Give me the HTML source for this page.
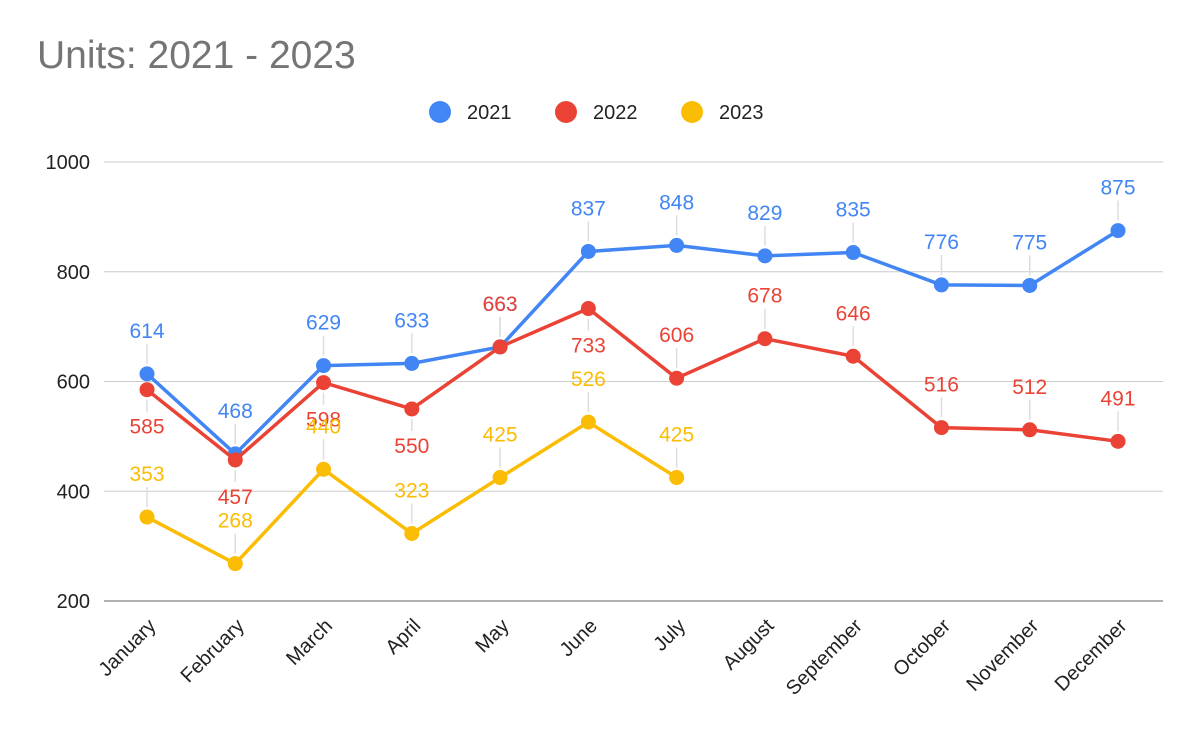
<!DOCTYPE html>
<html><head><meta charset="utf-8"><style>
body{margin:0;background:#fff;}
svg text{font-family:"Liberation Sans",Arial,sans-serif;}
</style></head><body>
<svg id="chart" width="1200" height="742" xmlns="http://www.w3.org/2000/svg">
<text x="37" y="68" font-size="39" fill="#757575">Units: 2021 - 2023</text>
<g id="grid"></g><g id="axes"></g><g id="series"></g><g id="legend"></g>
</svg>
<script>
const categories=["January","February","March","April","May","June","July","August","September","October","November","December"];
const seriesNames=["2021","2022","2023"];
const values2021=[614,468,629,633,663,837,848,829,835,776,775,875];
const values2022=[585,457,598,550,663,733,606,678,646,516,512,491];
const values2023=[353,268,440,323,425,526,425];
const labelBelow2022=[1,1,1,1,0,1,0,0,0,0,0,0];
const yTicks=[200,400,600,800,1000];
const colors=["#4285f4","#ea4335","#fbbc04"];
const NS="http://www.w3.org/2000/svg";
const x0=147,dx=(1118-147)/11;
function xs(i){return x0+i*dx;}
function ys(v){return 601-(v-200)*(439/800);}
function el(t,a,p){const e=document.createElementNS(NS,t);for(const k in a)e.setAttribute(k,a[k]);p.appendChild(e);return e;}
const grid=document.getElementById('grid'),axes=document.getElementById('axes'),ser=document.getElementById('series'),leg=document.getElementById('legend');
yTicks.forEach(t=>{
  const l=el('line',{x1:104,x2:1163,y1:ys(t),y2:ys(t),stroke:t===200?'#999':'#ccc','stroke-width':t===200?1.5:1},grid);
  
  
  const tx=el('text',{x:90,y:ys(t)+7,'text-anchor':'end','font-size':20,fill:'#222'},axes);tx.textContent=t;
  
  
});
categories.forEach((c,i)=>{
  const tx=el('text',{x:xs(i)+10,y:627,'text-anchor':'end','font-size':20,fill:'#222',transform:`rotate(-45 ${xs(i)+10} 627)`},axes);tx.textContent=c;
  
  
});
const all=[values2021,values2022,values2023];
all.forEach((vals,s)=>{
  const g=el('g',{},ser);
  
  
  const pl=el('polyline',{points:vals.map((v,i)=>xs(i)+','+ys(v)).join(' '),fill:'none',stroke:colors[s],'stroke-width':3.5,'stroke-linejoin':'round'},g);
  
  
  vals.forEach((v,i)=>{
    const x=xs(i),y=ys(v);
    const below=s===1&&labelBelow2022[i];
    const ld=el('line',{x1:x,x2:x,y1:below?y+10:y-10,y2:below?y+22:y-30,stroke:'#ddd','stroke-width':1.5},g);
    
    
    const c=el('circle',{cx:x,cy:y,r:7.5,fill:colors[s]},g);
    
    
    const t=el('text',{x:x,y:below?y+44:y-36,'text-anchor':'middle','font-size':21,fill:colors[s]},g);t.textContent=v;
    
    
  });
});
const lx=[440,566,692];
seriesNames.forEach((n,s)=>{
  const g=el('g',{},leg);
  
  
  el('circle',{cx:lx[s],cy:112,r:11,fill:colors[s]},g);
  const t=el('text',{x:lx[s]+27,y:119,'font-size':20,fill:'#222'},g);t.textContent=n;
});
</script>
</body></html>
